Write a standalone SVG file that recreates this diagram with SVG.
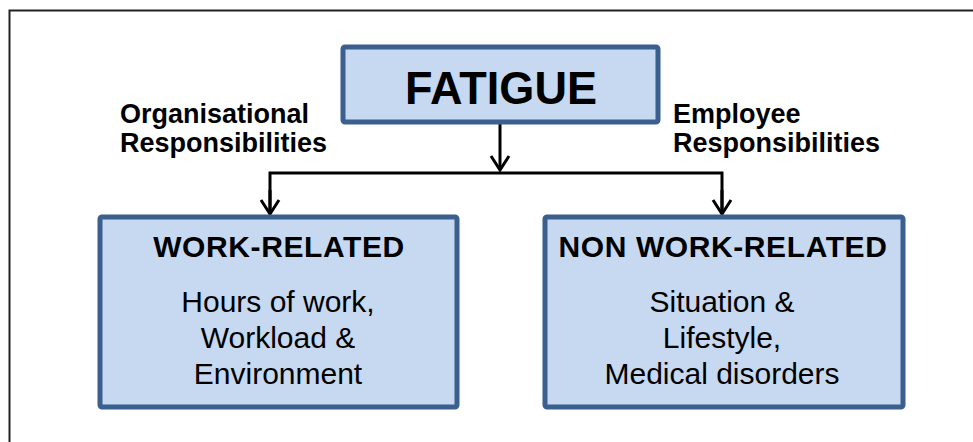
<svg xmlns="http://www.w3.org/2000/svg" width="973" height="442" viewBox="0 0 973 442">
  <defs>
    <style>
      .box { fill: #C6D9F1; stroke: #3B5F8E; stroke-width: 5; }
      .conn { fill: none; stroke: #000; stroke-width: 3; }
      .lbl { font-family: "Liberation Sans", Arial, sans-serif; font-weight: bold; font-size: 27px; fill: #000; }
      .title { font-family: "Liberation Sans", Arial, sans-serif; font-weight: bold; font-size: 30px; letter-spacing: 0.6px; fill: #000; text-anchor: middle; }
      .body { font-family: "Liberation Sans", Arial, sans-serif; font-size: 30px; fill: #000; text-anchor: middle; }
    </style>
    <marker id="arr" markerUnits="userSpaceOnUse" markerWidth="20" markerHeight="22" refX="16" refY="11" orient="auto" viewBox="0 0 20 22">
      <path d="M2,2 L16,11 L2,20" fill="none" stroke="#000" stroke-width="3"/>
    </marker>
  </defs>
  <rect x="0" y="0" width="973" height="442" fill="#fff"/>
  <rect x="9.5" y="10.5" width="980" height="460" fill="none" stroke="#222" stroke-width="2"/>

  <g id="connectors">
    <path class="conn" d="M500,122 L500,170" marker-end="url(#arr)"/>
    <path class="conn" d="M270,214 L270,173 L722,173 L722,214"/>
    <path class="conn" d="M270,190 L270,214" marker-end="url(#arr)"/>
    <path class="conn" d="M722,190 L722,214" marker-end="url(#arr)"/>
  </g>

  <g id="fatigue">
    <rect class="box" x="343" y="47" width="315" height="75" rx="2"/>
    <text x="501" y="104" font-family="Liberation Sans, Arial, sans-serif" font-weight="bold" font-size="47" text-anchor="middle" textLength="192" lengthAdjust="spacingAndGlyphs">FATIGUE</text>
  </g>

  <g id="org-label">
    <text class="lbl" x="120" y="123">Organisational</text>
    <text class="lbl" x="120" y="152">Responsibilities</text>
  </g>

  <g id="emp-label">
    <text class="lbl" x="673" y="123">Employee</text>
    <text class="lbl" x="673" y="152">Responsibilities</text>
  </g>

  <g id="work-related">
    <rect class="box" x="100" y="217" width="357" height="190" rx="2"/>
    <text class="title" x="279" y="257">WORK-RELATED</text>
    <text class="body" x="278" y="312">Hours of work,</text>
    <text class="body" x="278" y="348">Workload &amp;</text>
    <text class="body" x="278" y="384">Environment</text>
  </g>

  <g id="non-work-related">
    <rect class="box" x="545" y="217" width="358" height="190" rx="2"/>
    <text class="title" x="723" y="257">NON WORK-RELATED</text>
    <text class="body" x="722" y="312">Situation &amp;</text>
    <text class="body" x="722" y="348">Lifestyle,</text>
    <text class="body" x="722" y="384">Medical disorders</text>
  </g>
</svg>
